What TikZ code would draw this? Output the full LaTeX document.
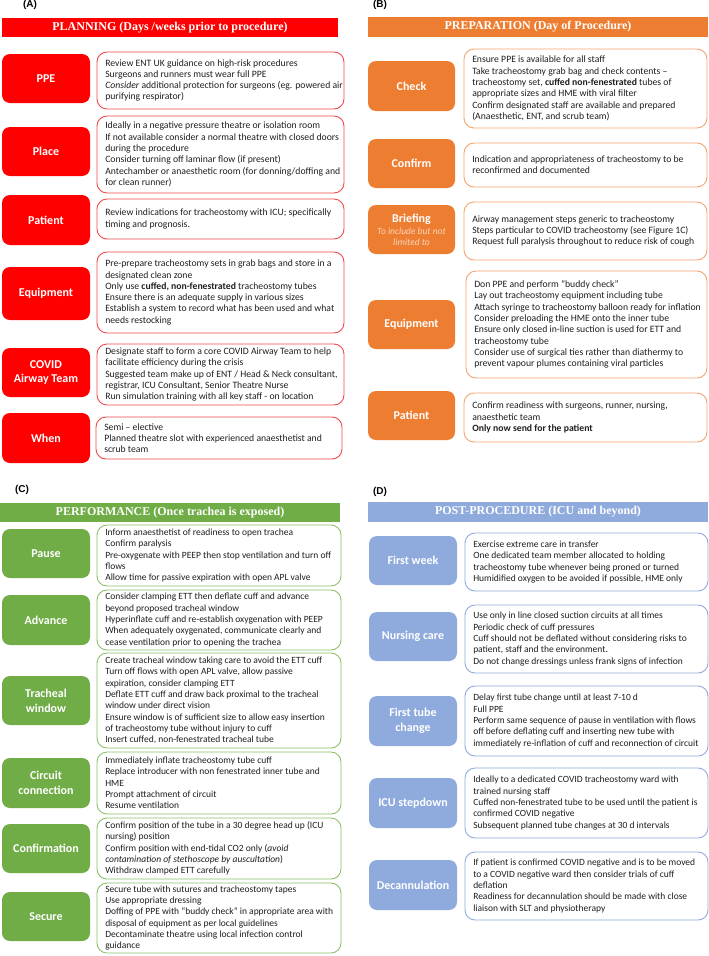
\documentclass[tikz,border=0pt]{standalone}
\usepackage{fontspec}
\setmainfont{Carlito}
\newfontfamily\hdrfont{Liberation Serif}
\newfontfamily\panelfont{Liberation Sans}
\usetikzlibrary{fit}
\definecolor{cRed}{HTML}{FF0000}
\definecolor{cRedb}{HTML}{F04A4A}
\definecolor{cOrange}{HTML}{ED7D31}
\definecolor{cOrangeb}{HTML}{F4A46E}
\definecolor{cGreen}{HTML}{70AD47}
\definecolor{cGreenb}{HTML}{8CC069}
\definecolor{cBlue}{HTML}{8FAADC}
\definecolor{cBlueb}{HTML}{8FAADC}
\definecolor{cPeach}{HTML}{FBD5B8}
\def\bsz{9.7}
\tikzset{
  lab/.style={rounded corners=8pt, fill=#1, draw=none, inner sep=0pt},
  tbox/.style={rounded corners=10pt, draw=#1, line width=0.9pt, fill=white, inner sep=0pt},
  labtxt/.style={text=white, font=\fontsize{12}{14.8}\selectfont\bfseries, align=center, inner sep=0pt},
  body/.style={anchor=west, align=left, font=\fontsize{\bsz}{11.3}\selectfont, text=black!88, inner sep=0pt},
  hdr/.style={fill=#1, draw=none, inner sep=0pt},
  hdrtxt/.style={text=white, font=\hdrfont\bfseries\fontsize{12}{14}\selectfont, inner sep=0pt},
  paneltxt/.style={font=\panelfont\bfseries\fontsize{10}{12}\selectfont, inner sep=0pt},
  subtxt/.style={text=cPeach, font=\fontsize{9.5}{11}\selectfont\itshape, inner sep=0pt}
}
\newcommand\qcols[4]{\def\LXa{#1}\def\LXb{#2}\def\TXa{#3}\def\TXb{#4}}
\newcommand\qrow[8]{%
  \node[lab=#2, fit={(\LXa,#3) (\LXb,#4)}] (#1L) {};
  \node[labtxt] (#1Ltxt) at (#1L) {#7};
  \node[tbox=#2b, fit={(\TXa,#5) (\TXb,#6)}] (#1T) {};
  \node[body] (#1Ttxt) at ([xshift=8.5pt]#1T.west) {#8};
}
\begin{document}
\begin{tikzpicture}[x=1pt,y=-1pt]
\useasboundingbox (0,0) rectangle (709,956);
\fill[white] (0,0) rectangle (709,956);

% ---------------- (A) PLANNING ----------------
\def\bsz{9.7}
\node[paneltxt] (aTag) at (30,5) {(A)};
\node[hdr=cRed, fit={(2,18) (338,37)}] (aHdr) {};
\node[hdrtxt] (aHdrTxt) at (aHdr) {PLANNING (Days /weeks prior to procedure)};
\qcols{2}{90}{97}{344}
\qrow{aPPE}{cRed}{54}{103}{52}{109}{PPE}{Review ENT UK guidance on high-risk procedures\\Surgeons and runners must wear full PPE\\\textit{Consider} additional protection for surgeons (eg. powered air\\purifying respirator)}
\qrow{aPlace}{cRed}{127}{176}{116}{193}{Place}{Ideally in a negative pressure theatre or isolation room\\If not available consider a normal theatre with closed doors\\during the procedure\\Consider turning off laminar flow (if present)\\Antechamber or anaesthetic room (for donning/doffing and\\for clean runner)}
\qrow{aPatient}{cRed}{195}{245}{199}{239}{Patient}{Review indications for tracheostomy with ICU; specifically\\timing and prognosis.}
\qrow{aEquip}{cRed}{267}{320}{252}{333}{Equipment}{Pre-prepare tracheostomy sets in grab bags and store in a\\designated clean zone\\Only use \textbf{cuffed, non-fenestrated} tracheostomy tubes\\Ensure there is an adequate supply in various sizes\\Establish a system to record what has been used and what\\needs restocking}
\qrow{aTeam}{cRed}{348}{397}{344}{405}{COVID\\Airway Team}{Designate staff to form a core COVID Airway Team to help\\facilitate efficiency during the crisis\\Suggested team make up of ENT / Head \& Neck consultant,\\registrar, ICU Consultant, Senior Theatre Nurse\\Run simulation training with all key staff - on location}
\qcols{2}{90}{96}{342}
\qrow{aWhen}{cRed}{413}{463}{417}{459}{When}{Semi – elective\\Planned theatre slot with experienced anaesthetist and\\scrub team}

% ---------------- (B) PREPARATION ----------------
\def\bsz{9.7}
\node[paneltxt] (bTag) at (380,5) {(B)};
\node[hdr=cOrange, fit={(368,17) (708,37)}] (bHdr) {};
\node[hdrtxt] (bHdrTxt) at (bHdr) {PREPARATION (Day of Procedure)};
\qcols{368}{455}{464}{707}
\qrow{bCheck}{cOrange}{61}{111}{49}{128}{Check}{Ensure PPE is available for all staff\\Take tracheostomy grab bag and check contents –\\tracheostomy set, \textbf{cuffed non-fenestrated} tubes of\\appropriate sizes and HME with viral filter\\Confirm designated staff are available and prepared\\(Anaesthetic, ENT, and scrub team)}
\qrow{bConfirm}{cOrange}{139}{188}{143}{187}{Confirm}{Indication and appropriateness of tracheostomy to be\\reconfirmed and documented}
\qrow{bBrief}{cOrange}{205}{254}{202}{260}{}{Airway management steps generic to tracheostomy\\Steps particular to COVID tracheostomy (see Figure 1C)\\Request full paralysis throughout to reduce risk of cough}
\node[labtxt] (bBriefA) at (411.5,219) {Briefing};
\node[subtxt] (bBriefB) at (411.5,231) {To include but not};
\node[subtxt] (bBriefC) at (411.5,242) {limited to};
\qcols{368}{455}{466}{707}
\qrow{bEquip}{cOrange}{300}{349}{271}{378}{Equipment}{Don PPE and perform “buddy check”\\Lay out tracheostomy equipment including tube\\Attach syringe to tracheostomy balloon ready for inflation\\Consider preloading the HME onto the inner tube\\Ensure only closed in-line suction is used for ETT and\\tracheostomy tube\\Consider use of surgical ties rather than diathermy to\\prevent vapour plumes containing viral particles}
\qcols{368}{455}{464}{707}
\qrow{bPatient}{cOrange}{391}{440}{393}{442}{Patient}{Confirm readiness with surgeons, runner, nursing,\\anaesthetic team\\\textbf{Only now send for the patient}}

% ---------------- (C) PERFORMANCE ----------------
\def\bsz{9.5}
\node[paneltxt] (cTag) at (22,490) {(C)};
\node[hdr=cGreen, fit={(0,503) (340,522)}] (cHdr) {};
\node[hdrtxt] (cHdrTxt) at (cHdr) {PERFORMANCE (Once trachea is exposed)};
\qcols{2}{90}{97}{341}
\qrow{cPause}{cGreen}{529}{578}{525}{586}{Pause}{Inform anaesthetist of readiness to open trachea\\Confirm paralysis\\Pre-oxygenate with PEEP then stop ventilation and turn off\\flows\\Allow time for passive expiration with open APL valve}
\qrow{cAdv}{cGreen}{595}{645}{590}{650}{Advance}{Consider clamping ETT then deflate cuff and advance\\beyond proposed tracheal window\\Hyperinflate cuff and re-establish oxygenation with PEEP\\When adequately oxygenated, communicate clearly and\\cease ventilation prior to opening the trachea}
\qrow{cWin}{cGreen}{676}{725}{653}{748}{Tracheal\\window}{Create tracheal window taking care to avoid the ETT cuff\\Turn off flows with open APL valve, allow passive\\expiration, consider clamping ETT\\Deflate ETT cuff and draw back proximal to the tracheal\\window under direct vision\\Ensure window is of sufficient size to allow easy insertion\\of tracheostomy tube without injury to cuff\\Insert cuffed, non-fenestrated tracheal tube}
\qrow{cCirc}{cGreen}{758}{808}{752}{814}{Circuit\\connection}{Immediately inflate tracheostomy tube cuff\\Replace introducer with non fenestrated inner tube and\\HME\\Prompt attachment of circuit\\Resume ventilation}
\qrow{cConf}{cGreen}{824}{873}{818}{879}{Confirmation}{Confirm position of the tube in a 30 degree head up (ICU\\nursing) position\\Confirm position with end-tidal CO2 only (\textit{avoid}\\\textit{contamination of stethoscope by auscultation})\\Withdraw clamped ETT carefully}
\qrow{cSec}{cGreen}{892}{941}{883}{953}{Secure}{Secure tube with sutures and tracheostomy tapes\\Use appropriate dressing\\Doffing of PPE with “buddy check” in appropriate area with\\disposal of equipment as per local guidelines\\Decontaminate theatre using local infection control\\guidance}

% ---------------- (D) POST-PROCEDURE ----------------
\def\bsz{9.5}
\node[paneltxt] (dTag) at (380,492) {(D)};
\node[hdr=cBlue, fit={(368,502) (708,522)}] (dHdr) {};
\node[hdrtxt] (dHdrTxt) at (dHdr) {POST-PROCEDURE (ICU and beyond)};
\qcols{369}{457}{465}{708}
\qrow{dWeek}{cBlue}{536}{585}{533}{591}{First week}{Exercise extreme care in transfer\\One dedicated team member allocated to holding\\tracheostomy tube whenever being proned or turned\\Humidified oxygen to be avoided if possible, HME only}
\qrow{dNurse}{cBlue}{612}{661}{605}{673}{Nursing care}{Use only in line closed suction circuits at all times\\Periodic check of cuff pressures\\Cuff should not be deflated without considering risks to\\patient, staff and the environment.\\Do not change dressings unless frank signs of infection}
\qrow{dTube}{cBlue}{696}{746}{686}{756}{First tube\\change}{Delay first tube change until at least 7-10 d\\Full PPE\\Perform same sequence of pause in ventilation with flows\\off before deflating cuff and inserting new tube with\\immediately re-inflation of cuff and reconnection of circuit}
\qrow{dICU}{cBlue}{778}{828}{768}{838}{ICU stepdown}{Ideally to a dedicated COVID tracheostomy ward with\\trained nursing staff\\Cuffed non-fenestrated tube to be used until the patient is\\confirmed COVID negative\\Subsequent planned tube changes at 30 d intervals}
\qrow{dDec}{cBlue}{860}{910}{852}{920}{Decannulation}{If patient is confirmed COVID negative and is to be moved\\to a COVID negative ward then consider trials of cuff\\deflation\\Readiness for decannulation should be made with close\\liaison with SLT and physiotherapy}
\end{tikzpicture}
\end{document}
